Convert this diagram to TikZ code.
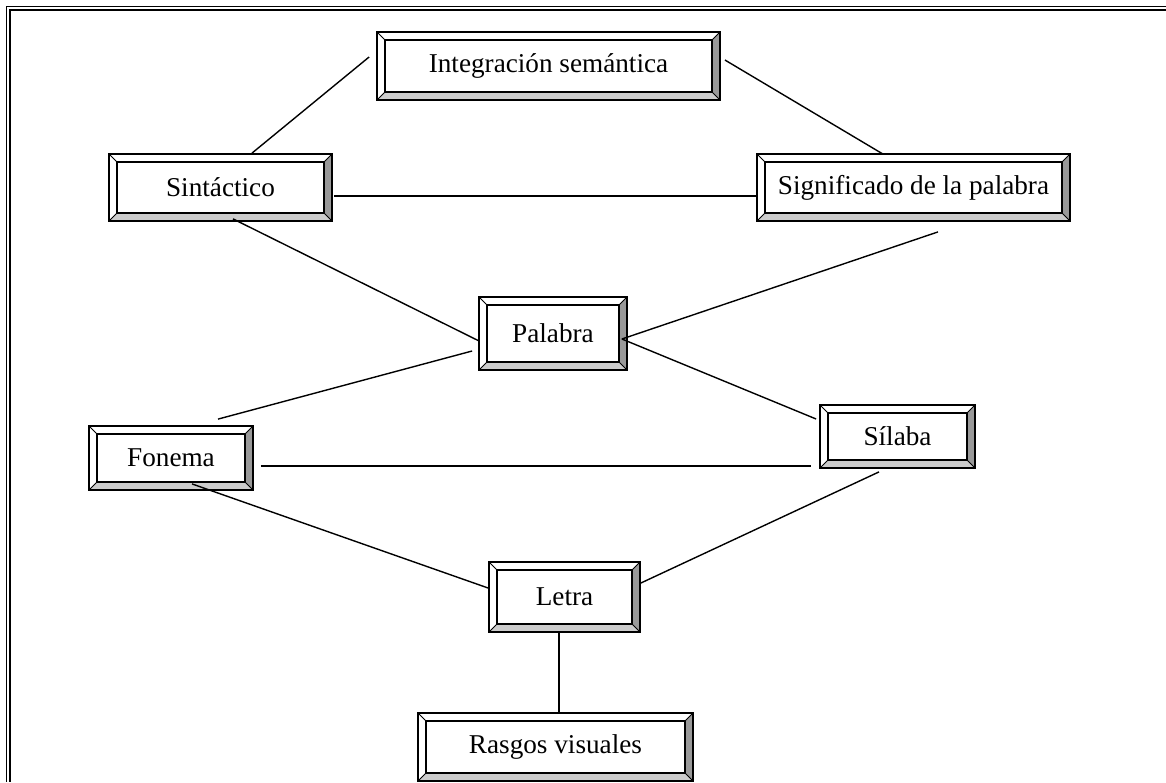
\documentclass[tikz,border=0pt]{standalone}
\usepackage{fontspec}
\setmainfont{Liberation Serif}
\definecolor{bevelside}{HTML}{999999}
\definecolor{bevelbot}{HTML}{CCCCCC}
\tikzset{
  bevel/.style={draw, line width=0.9pt, inner sep=0pt, font=\fontsize{13.6}{15}\selectfont,
    path picture={
      \coordinate (nw) at (path picture bounding box.north west);
      \coordinate (ne) at (path picture bounding box.north east);
      \coordinate (sw) at (path picture bounding box.south west);
      \coordinate (se) at (path picture bounding box.south east);
      \fill[bevelside] (ne) -- (se) -- ([shift={(-4pt,4pt)}]se) -- ([shift={(-4pt,-4pt)}]ne) -- cycle;
      \fill[bevelbot] (sw) -- (se) -- ([shift={(-4pt,4pt)}]se) -- ([shift={(4pt,4pt)}]sw) -- cycle;
      \draw[line width=0.7pt] ([shift={(4pt,-4pt)}]nw) rectangle ([shift={(-4pt,4pt)}]se);
      \draw[line width=0.5pt] (nw) -- ++(4pt,-4pt) (ne) -- ++(-4pt,-4pt)
        (sw) -- ++(4pt,4pt) (se) -- ++(-4pt,4pt);
    }},
  link/.style={line width=0.7pt},
}
\begin{document}
\begin{tikzpicture}[x=0.5pt, y=-0.5pt]
\useasboundingbox (0,0) rectangle (1166,782);
\draw[line width=0.6pt] (1166,6.5) -- (6.5,6.5) -- (6.5,782);
\draw[line width=1.3pt] (1166,10) -- (10,10) -- (10,782);
\node[bevel,minimum width=171.5pt,minimum height=34pt] (integ) at (548.5,66) {Integración semántica};
\node[bevel,minimum width=111.5pt,minimum height=33.5pt] (sint) at (220.5,187.5) {Sintáctico};
\node[bevel,minimum width=156.5pt,minimum height=33.5pt] (signif) at (913.5,187.5) {Significado de la palabra};
\node[bevel,minimum width=74pt,minimum height=36.5pt] (pal) at (553,333.5) {Palabra};
\node[bevel,minimum width=82pt,minimum height=32pt] (fon) at (171,458) {Fonema};
\node[bevel,minimum width=77.5pt,minimum height=31.5pt] (sil) at (897.5,436.5) {Sílaba};
\node[bevel,minimum width=75.5pt,minimum height=35pt] (letra) at (564.5,597) {Letra};
\node[bevel,minimum width=137.5pt,minimum height=34pt] (rasgos) at (555.5,747) {Rasgos visuales};
\draw[link] ([shift={(-7,-9)}]integ.west) -- ([shift={(31.5,0)}]sint.north);
\draw[link] ([shift={(4,-6)}]integ.east) -- ([shift={(-30.5,1)}]signif.north);
\draw[link] ([shift={(1,8.5)}]sint.east) -- ([shift={(0,8.5)}]signif.west);
\draw[link] ([shift={(12.5,-3)}]sint.south) -- ([shift={(1,7.5)}]pal.west);
\draw[link] ([shift={(24.5,10)}]signif.south) -- ([shift={(-6,5.5)}]pal.east);
\draw[link] ([shift={(-6,17.5)}]pal.west) -- ([shift={(47,-6)}]fon.north);
\draw[link] ([shift={(-6,5.5)}]pal.east) -- ([shift={(-3,-17.5)}]sil.west);
\draw[link] ([shift={(7,8)}]fon.east) -- ([shift={(-8,29.5)}]sil.west);
\draw[link] ([shift={(21,-7)}]fon.south) -- ([shift={(0,-9)}]letra.west);
\draw[link] ([shift={(-18.5,3)}]sil.south) -- ([shift={(0,-14)}]letra.east);
\draw[link] ([shift={(-5.5,0)}]letra.south) -- ([shift={(3.5,0)}]rasgos.north);
\end{tikzpicture}
\end{document}
